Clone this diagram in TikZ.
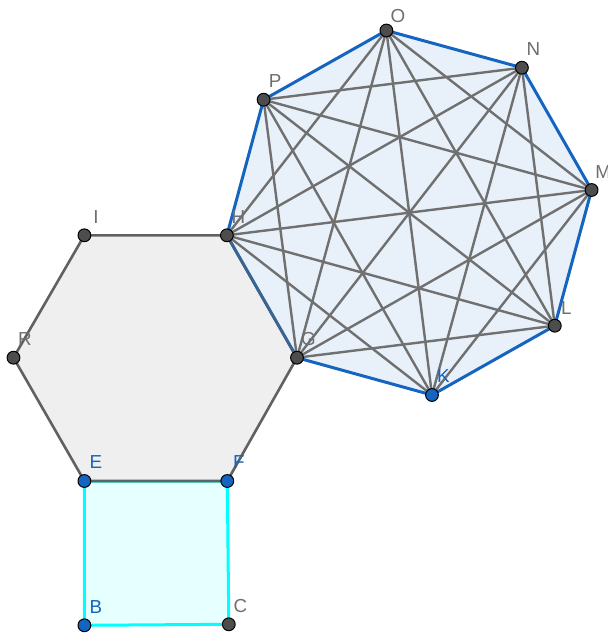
\documentclass[tikz,border=0pt]{standalone}
\usepackage{fontspec}
\setmainfont{Liberation Sans}
\definecolor{octblue}{RGB}{21,101,192}
\definecolor{octfill}{RGB}{232,240,249}
\definecolor{hexgray}{RGB}{97,97,97}
\definecolor{hexfill}{RGB}{239,239,239}
\definecolor{sqcyan}{RGB}{0,255,255}
\definecolor{sqfill}{RGB}{230,255,255}
\definecolor{diaggray}{RGB}{112,112,112}
\definecolor{ptgray}{RGB}{77,77,77}
\definecolor{lblgray}{RGB}{110,110,110}
\tikzset{
  dot/.style={circle,draw=black,line width=0.5pt,inner sep=0pt,minimum size=6.4pt},
  lbl/.style={inner sep=0pt,font=\fontsize{9.4}{11}\selectfont},
}
\begin{document}
\begin{tikzpicture}[x=0.5pt,y=-0.5pt,line join=round]
    \useasboundingbox (0,0) rectangle (607,633);
    % 顶点
    \coordinate (I) at (84.4,235.3);
    \coordinate (H) at (226.9,235.3);
    \coordinate (G) at (297,357.7);
    \coordinate (F) at (227.3,481);
    \coordinate (E) at (84.4,481);
    \coordinate (R) at (13.5,357.7);
    \coordinate (B) at (84.4,625.3);
    \coordinate (C) at (228.8,624.3);
    \coordinate (P) at (263.6,99.7);
    \coordinate (O) at (386.4,30.5);
    \coordinate (N) at (521.9,67.7);
    \coordinate (M) at (591.6,190);
    \coordinate (L) at (554.8,325.7);
    \coordinate (K) at (432,395);

    % 正方形
    \filldraw[fill=sqfill,draw=sqcyan,line width=1.5pt] (E) -- (F) -- (C) -- (B) -- cycle;
    % 正六边形
    \filldraw[fill=hexfill,draw=hexgray,line width=1.3pt] (I) -- (H) -- (G) -- (F) -- (E) -- (R) -- cycle;
    % 正八边形及其对角线
    \filldraw[fill=octfill,draw=octblue,line width=1.5pt] (H) -- (P) -- (O) -- (N) -- (M) -- (L) -- (K) -- (G) -- cycle;
    \draw[hexgray,line width=1.2pt,opacity=0.6] (H) -- (G);
    \foreach \a/\b in {H/O,H/N,H/M,H/L,H/K,P/N,P/M,P/L,P/K,P/G,
                       O/M,O/L,O/K,O/G,N/L,N/K,N/G,M/K,M/G,L/G}
        \draw[diaggray,line width=1.2pt] (\a) -- (\b);

    % 点和标签
    \foreach \p/\c/\t/\dy in {I/ptgray/lblgray/-18.5,H/ptgray/lblgray/-18.5,
                          G/ptgray/lblgray/-18.5,R/ptgray/lblgray/-18.5,
                          C/ptgray/lblgray/-18.5,P/ptgray/lblgray/-19,
                          O/ptgray/lblgray/-14,N/ptgray/lblgray/-18.5,
                          M/ptgray/lblgray/-18,L/ptgray/lblgray/-18,
                          E/octblue/octblue/-18.5,F/octblue/octblue/-18.5,
                          B/octblue/octblue/-18.5,K/octblue/octblue/-18.5} {
        \node[dot,fill=\c] (d\p) at (\p) {};
        \node[lbl,text=\t] (l\p) at ([shift={(11.5,\dy)}]\p) {\p};
    }
\end{tikzpicture}
\end{document}
